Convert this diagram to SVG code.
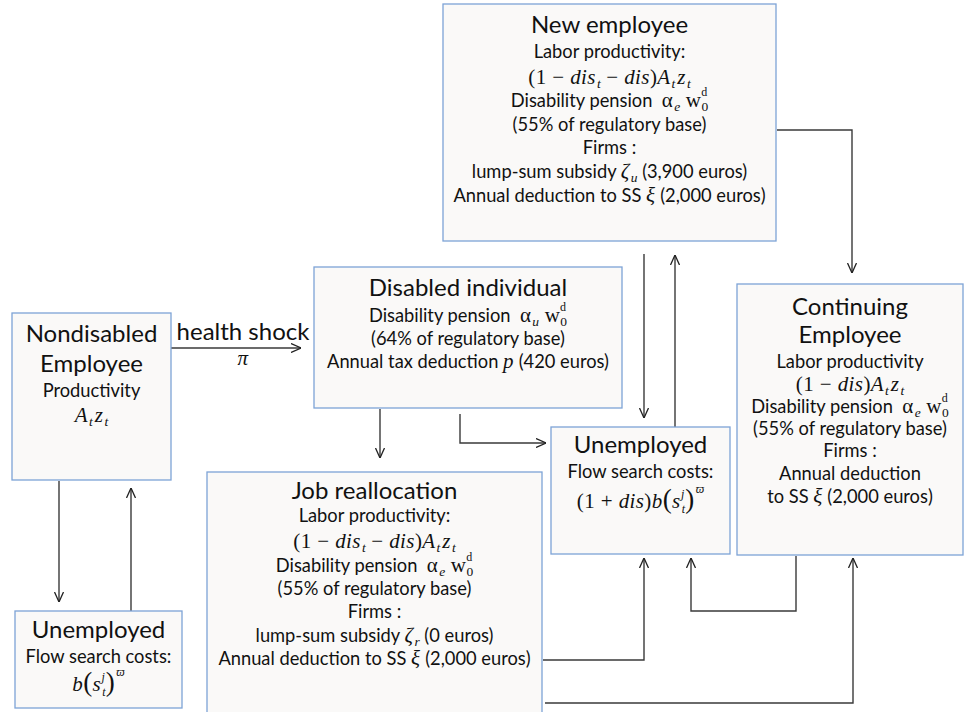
<svg xmlns="http://www.w3.org/2000/svg" width="964" height="712" viewBox="0 0 964 712">
<style>
.box{fill:#FAF9F8;stroke:#7DA3D6;stroke-width:1.3}
.t{font-family:Lato,"Open Sans",sans-serif;fill:#111;text-anchor:middle}
.title{font-size:24px}
.body{font-size:18.3px}
.m{font-family:"Liberation Serif","DejaVu Serif",serif;font-size:21px;letter-spacing:0.4px}
.i{font-style:italic}
.sub{font-size:13.5px;letter-spacing:0}
.sup{font-size:12px;letter-spacing:0}
.big{font-size:27px}
.conn{fill:none;stroke:#3a3a3a;stroke-width:1.4}
</style>
<defs>
<marker id="arr" markerUnits="userSpaceOnUse" viewBox="0 0 10 10" refX="10" refY="5" markerWidth="10" markerHeight="10" orient="auto">
<path d="M0,0.5 L10,5 L0,9.5" fill="none" stroke="#222" stroke-width="1.3"/>
</marker>
</defs>
<g id="connectors">
<path class="conn" d="M171,348 H301" marker-end="url(#arr)"/>
<path class="conn" d="M59,481 V602" marker-end="url(#arr)"/>
<path class="conn" d="M131,611 V488" marker-end="url(#arr)"/>
<path class="conn" d="M380,409 V458" marker-end="url(#arr)"/>
<path class="conn" d="M460,414 V443 H546" marker-end="url(#arr)"/>
<path class="conn" d="M644,254 V418" marker-end="url(#arr)"/>
<path class="conn" d="M675,427 V255" marker-end="url(#arr)"/>
<path class="conn" d="M777,130 H852 V273" marker-end="url(#arr)"/>
<path class="conn" d="M543,660 H644 V558" marker-end="url(#arr)"/>
<path class="conn" d="M796,556 V611 H691 V558" marker-end="url(#arr)"/>
<path class="conn" d="M545,703 H853 V558" marker-end="url(#arr)"/>
<text class="t title" x="243" y="340">health shock</text>
<text class="t m i" x="243" y="365">π</text>
</g>
<g id="new-employee">
<rect class="box" x="443" y="4" width="333" height="237"/>
<text class="t title" x="609.5" y="33">New employee</text>
<text class="t body" x="609.5" y="58">Labor productivity:</text>
<text class="t" x="609.5" y="84"><tspan class="m">(1 − </tspan><tspan class="m i">dis</tspan><tspan class="m i sub" dx="1" dy="4">t</tspan><tspan class="m" dy="-4"> − </tspan><tspan class="m i">dis</tspan><tspan class="m">)</tspan><tspan class="m i">A</tspan><tspan class="m i sub" dx="1" dy="4">t</tspan><tspan class="m i" dx="2" dy="-4">z</tspan><tspan class="m i sub" dx="1" dy="4">t</tspan></text>
<text class="t body" x="609.5" y="107">Disability pension&#160;&#160;<tspan class="m">α</tspan><tspan class="m i sub" dx="1" dy="4">e</tspan><tspan class="m" dy="-4"> w</tspan><tspan class="m sub" dy="4">0</tspan><tspan class="m sup" dx="-7" dy="-15">d</tspan></text>
<text class="t body" x="609.5" y="131">(55% of regulatory base)</text>
<text class="t body" x="609.5" y="154">Firms :</text>
<text class="t body" x="609.5" y="178">lump-sum subsidy <tspan class="m i">ζ</tspan><tspan class="m i sub" dx="1" dy="4">u</tspan><tspan dy="-4"> (3,900 euros)</tspan></text>
<text class="t body" x="609.5" y="202">Annual deduction to SS <tspan class="m i">ξ</tspan> (2,000 euros)</text>
</g>
<g id="nondisabled-employee">
<rect class="box" x="12" y="313" width="159" height="167"/>
<text class="t title" x="91.5" y="342">Nondisabled</text>
<text class="t title" x="91.5" y="372">Employee</text>
<text class="t body" x="91.5" y="397">Productivity</text>
<text class="t" x="91.5" y="422"><tspan class="m i">A</tspan><tspan class="m i sub" dx="1" dy="4">t</tspan><tspan class="m i" dx="2" dy="-4">z</tspan><tspan class="m i sub" dx="1" dy="4">t</tspan></text>
</g>
<g id="disabled-individual">
<rect class="box" x="314" y="267" width="308" height="141"/>
<text class="t title" x="468" y="296">Disabled individual</text>
<text class="t body" x="468" y="322">Disability pension&#160;&#160;<tspan class="m">α</tspan><tspan class="m i sub" dx="1" dy="4">u</tspan><tspan class="m" dy="-4"> w</tspan><tspan class="m sub" dy="4">0</tspan><tspan class="m sup" dx="-7" dy="-15">d</tspan></text>
<text class="t body" x="468" y="345">(64% of regulatory base)</text>
<text class="t body" x="468" y="368">Annual tax deduction <tspan class="m i">p</tspan> (420 euros)</text>
</g>
<g id="continuing-employee">
<rect class="box" x="737" y="284" width="226" height="271"/>
<text class="t title" x="850" y="315">Continuing</text>
<text class="t title" x="850" y="343">Employee</text>
<text class="t body" x="850" y="368">Labor productivity</text>
<text class="t" x="850" y="391"><tspan class="m">(1 − </tspan><tspan class="m i">dis</tspan><tspan class="m">)</tspan><tspan class="m i">A</tspan><tspan class="m i sub" dx="1" dy="4">t</tspan><tspan class="m i" dx="2" dy="-4">z</tspan><tspan class="m i sub" dx="1" dy="4">t</tspan></text>
<text class="t body" x="850" y="413">Disability pension&#160;&#160;<tspan class="m">α</tspan><tspan class="m i sub" dx="1" dy="4">e</tspan><tspan class="m" dy="-4"> w</tspan><tspan class="m sub" dy="4">0</tspan><tspan class="m sup" dx="-7" dy="-15">d</tspan></text>
<text class="t body" x="850" y="435">(55% of regulatory base)</text>
<text class="t body" x="850" y="457">Firms :</text>
<text class="t body" x="850" y="480">Annual deduction</text>
<text class="t body" x="850" y="503">to SS <tspan class="m i">ξ</tspan> (2,000 euros)</text>
</g>
<g id="job-reallocation">
<rect class="box" x="207" y="472" width="335" height="250"/>
<text class="t title" x="374.5" y="499">Job reallocation</text>
<text class="t body" x="374.5" y="522">Labor productivity:</text>
<text class="t" x="374.5" y="548"><tspan class="m">(1 − </tspan><tspan class="m i">dis</tspan><tspan class="m i sub" dx="1" dy="4">t</tspan><tspan class="m" dy="-4"> − </tspan><tspan class="m i">dis</tspan><tspan class="m">)</tspan><tspan class="m i">A</tspan><tspan class="m i sub" dx="1" dy="4">t</tspan><tspan class="m i" dx="2" dy="-4">z</tspan><tspan class="m i sub" dx="1" dy="4">t</tspan></text>
<text class="t body" x="374.5" y="572">Disability pension&#160;&#160;<tspan class="m">α</tspan><tspan class="m i sub" dx="1" dy="4">e</tspan><tspan class="m" dy="-4"> w</tspan><tspan class="m sub" dy="4">0</tspan><tspan class="m sup" dx="-7" dy="-15">d</tspan></text>
<text class="t body" x="374.5" y="595">(55% of regulatory base)</text>
<text class="t body" x="374.5" y="618">Firms :</text>
<text class="t body" x="374.5" y="642">lump-sum subsidy <tspan class="m i">ζ</tspan><tspan class="m i sub" dx="1" dy="4">r</tspan><tspan dy="-4"> (0 euros)</tspan></text>
<text class="t body" x="374.5" y="665">Annual deduction to SS <tspan class="m i">ξ</tspan> (2,000 euros)</text>
</g>
<g id="unemployed-middle">
<rect class="box" x="551" y="427" width="179" height="127"/>
<text class="t title" x="640.5" y="453">Unemployed</text>
<text class="t body" x="640.5" y="478">Flow search costs:</text>
<text class="t" x="640.5" y="508"><tspan class="m">(1 + </tspan><tspan class="m i">dis</tspan><tspan class="m">)</tspan><tspan class="m i">b</tspan><tspan class="m big">(</tspan><tspan class="m i">s</tspan><tspan class="m i sup" dx="1" dy="5">t</tspan><tspan class="m i sup" dx="-4" dy="-15">j</tspan><tspan class="m big" dx="1" dy="10">)</tspan><tspan class="m i sup" dx="1" dy="-15">ϖ</tspan></text>
</g>
<g id="unemployed-left">
<rect class="box" x="15" y="611" width="167" height="97"/>
<text class="t title" x="98.5" y="638">Unemployed</text>
<text class="t body" x="98.5" y="663">Flow search costs:</text>
<text class="t" x="98.5" y="691"><tspan class="m i">b</tspan><tspan class="m big">(</tspan><tspan class="m i">s</tspan><tspan class="m i sup" dx="1" dy="5">t</tspan><tspan class="m i sup" dx="-4" dy="-15">j</tspan><tspan class="m big" dx="1" dy="10">)</tspan><tspan class="m i sup" dx="1" dy="-15">ϖ</tspan></text>
</g>
</svg>
